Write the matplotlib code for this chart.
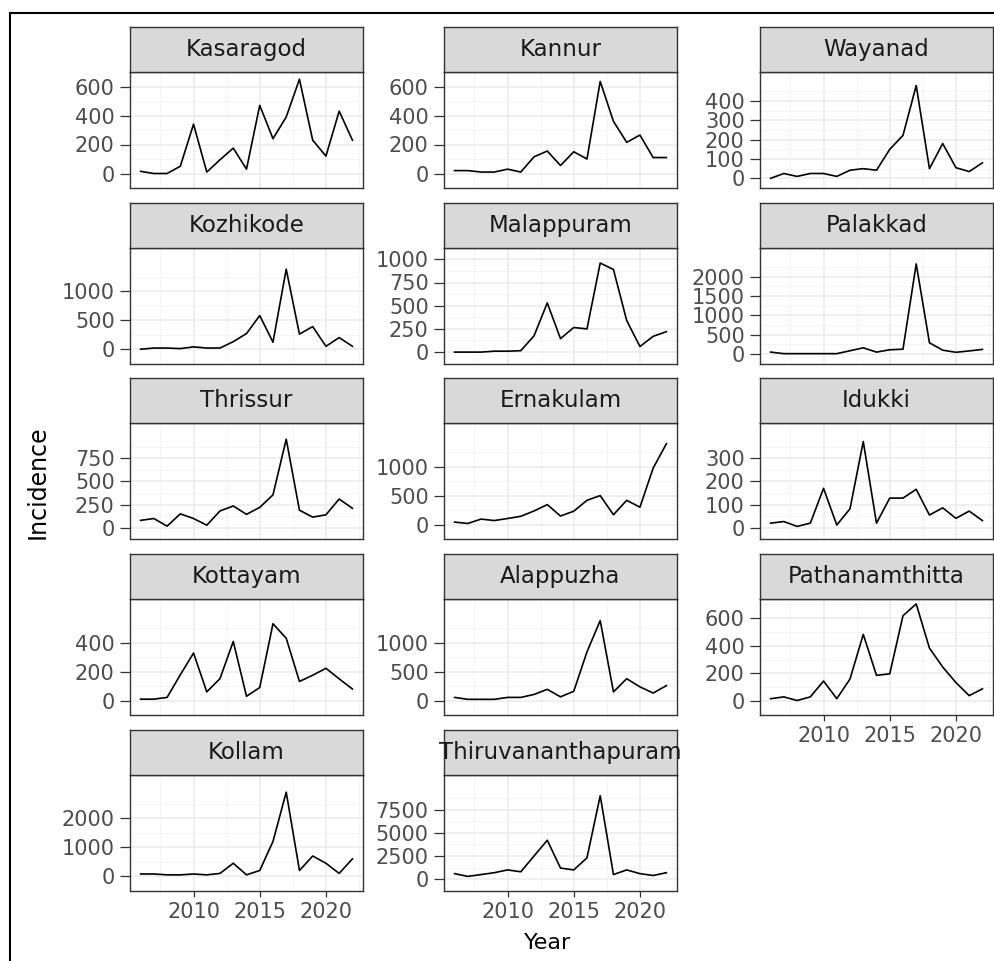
import numpy as np
import matplotlib
matplotlib.use("Agg")
import matplotlib.pyplot as plt
from matplotlib.lines import Line2D

years = list(range(2006, 2023))

districts = ["Kasaragod", "Kannur", "Wayanad",
             "Kozhikode", "Malappuram", "Palakkad",
             "Thrissur", "Ernakulam", "Idukki",
             "Kottayam", "Alappuzha", "Pathanamthitta",
             "Kollam", "Thiruvananthapuram"]

kasaragod = [15, 0, 0, 50, 340, 10, 95, 175, 30, 470, 240, 390, 650, 230, 120, 430, 230]
kannur = [20, 20, 10, 10, 30, 10, 115, 155, 55, 150, 100, 635, 360, 215, 265, 110, 110]
wayanad = [0, 25, 10, 25, 25, 10, 42, 50, 42, 150, 222, 480, 50, 180, 55, 35, 80]
kozhikode = [0, 20, 20, 10, 40, 20, 20, 130, 270, 580, 120, 1380, 260, 390, 50, 200, 50]
malappuram = [0, 0, 0, 10, 10, 15, 175, 530, 145, 265, 250, 960, 890, 340, 60, 170, 220]
palakkad = [50, 10, 10, 10, 10, 10, 85, 160, 50, 110, 125, 2330, 290, 100, 45, 80, 120]
thrissur = [80, 100, 18, 150, 100, 28, 182, 235, 145, 220, 355, 955, 190, 115, 140, 310, 210]
ernakulam = [48, 25, 100, 75, 110, 148, 240, 350, 153, 236, 424, 505, 175, 424, 305, 980, 1400]
idukki = [20, 27, 6, 20, 170, 12, 82, 372, 20, 128, 128, 166, 55, 86, 41, 72, 31]
kottayam = [10, 10, 22, 178, 328, 60, 152, 408, 30, 90, 530, 430, 132, 175, 223, 150, 80]
alappuzha = [55, 22, 22, 22, 55, 55, 106, 194, 65, 160, 840, 1380, 150, 378, 237, 130, 258]
pathanamthitta = [18, 31, 5, 31, 145, 18, 160, 481, 186, 197, 615, 700, 382, 246, 134, 40, 89]
kollam = [80, 80, 50, 50, 80, 50, 100, 450, 50, 200, 1200, 2900, 200, 700, 450, 100, 600]
thiruvananthapuram = [600, 300, 500, 700, 1000, 800, 2500, 4200, 1200, 1000, 2300, 9000, 500, 1000, 600, 400, 700]

series = [kasaragod, kannur, wayanad, kozhikode, malappuram, palakkad,
          thrissur, ernakulam, idukki, kottayam, alappuzha, pathanamthitta,
          kollam, thiruvananthapuram]

y_ticks = [[0, 200, 400, 600], [0, 200, 400, 600], [0, 100, 200, 300, 400],
           [0, 500, 1000], [0, 250, 500, 750, 1000], [0, 500, 1000, 1500, 2000],
           [0, 250, 500, 750], [0, 500, 1000], [0, 100, 200, 300],
           [0, 200, 400], [0, 500, 1000], [0, 200, 400, 600],
           [0, 1000, 2000], [0, 2500, 5000, 7500]]

x_ticks = [2010, 2015, 2020]

# pixel layout
W, H = 994, 961
fig = plt.figure(figsize=(W / 100, H / 100), dpi=100)
plt.rcParams['font.family'] = ['DejaVu Sans']

col_left = [130, 444, 760]
panel_w = 233
panel_h = 116
strip_h = 45
row_top = [72 + i * 175.7 for i in range(5)]

def px(x, y, w, h):
    return [x / W, 1 - (y + h) / H, w / W, h / H]

bottom_idx = {12, 13, 11}

for i, name in enumerate(districts):
    r, c = divmod(i, 3)
    x0, y0 = col_left[c], row_top[r]
    ax = fig.add_axes(px(x0, y0, panel_w, panel_h))
    vals = np.array(series[i], dtype=float)
    ax.plot(years, vals, color="black", lw=1.2)
    rng = vals.max() - vals.min()
    ax.set_ylim(vals.min() - 0.05 * rng, vals.max() + 0.05 * rng)
    ax.set_xlim(2005.2, 2022.8)
    ticks = y_ticks[i]
    step = ticks[1] - ticks[0]
    ax.set_yticks(ticks)
    ax.set_yticklabels([str(t) for t in ticks])
    minors = np.arange(-step / 2, vals.max() + step, step)
    ax.set_yticks(minors, minor=True)
    ax.set_xticks(x_ticks)
    ax.set_xticks([2007.5, 2012.5, 2017.5, 2022.5], minor=True)
    ax.grid(which="major", color="#EBEBEB", lw=1.1)
    ax.grid(which="minor", color="#F2F2F2", lw=0.6)
    ax.set_axisbelow(True)
    for s in ax.spines.values():
        s.set_color("#333333")
        s.set_linewidth(1.0)
    ax.tick_params(which="minor", length=0)
    ax.tick_params(which="major", width=0.9, color="#333333",
                   labelcolor="#4D4D4D", labelsize=15)
    ax.tick_params(axis="y", which="major", length=7, pad=4)
    ax.tick_params(axis="x", which="major", length=4.5, pad=3.5)
    if i not in bottom_idx:
        ax.tick_params(axis="x", which="major", length=0, labelbottom=False)

    sax = fig.add_axes(px(x0, y0 - strip_h, panel_w, strip_h))
    sax.set_facecolor("#D9D9D9")
    sax.set_xticks([])
    sax.set_yticks([])
    for s in sax.spines.values():
        s.set_color("#333333")
        s.set_linewidth(1.0)
    sax.text(0.5, 0.5, name, ha="center", va="center", fontsize=16.5,
             color="#1A1A1A", transform=sax.transAxes)

fig.text(548 / W, 1 - 943 / H, "Year", ha="center", va="center", fontsize=16)
fig.text(38 / W, 1 - 482 / H, "Incidence", ha="center", va="center",
         rotation=90, fontsize=17)

# outer frame of the screenshot
fig.add_artist(Line2D([10 / W, 10 / W], [0, 1 - 13 / H], color="black", lw=1.5))
fig.add_artist(Line2D([10 / W, 1], [1 - 13 / H, 1 - 13 / H], color="black", lw=1.5))

fig.savefig("out.png", dpi=100)
